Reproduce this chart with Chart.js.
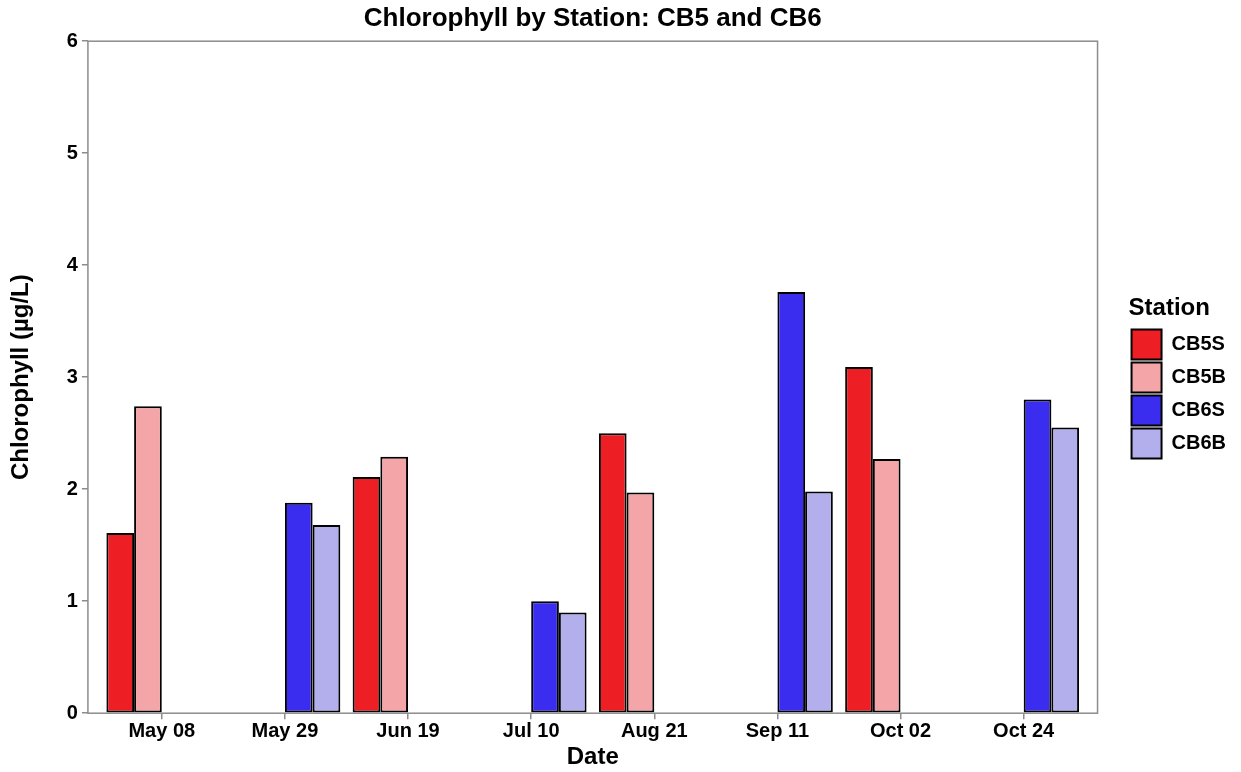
<!DOCTYPE html>
<html>
<head>
<meta charset="utf-8">
<script src="https://cdn.jsdelivr.net/npm/chart.js@4.4.1/dist/chart.umd.min.js"></script>
<style>
  body { margin: 0; background: #fff; }
  #box { width: 1241px; height: 772px; }
</style>
</head>
<body>
<div id="box"><canvas id="grafico"></canvas></div>
<script>
// Datas de coleta (eixo x discreto)
const datas = ['May 08', 'May 29', 'Jun 19', 'Jul 10', 'Aug 21', 'Sep 11', 'Oct 02', 'Oct 24'];

// Clorofila por estação (µg/L), null = sem coleta naquela data
const cb5s = [1.61, null, 2.11, null, 2.50, null, 3.09, null];
const cb5b = [2.74, null, 2.29, null, 1.97, null, 2.27, null];
const cb6s = [null, 1.88, null, 1.00, null, 3.76, null, 2.80];
const cb6b = [null, 1.68, null, 0.90, null, 1.98, null, 2.55];

const estacoes = ['CB5S', 'CB5B', 'CB6S', 'CB6B'];
const cores = ['#ED1F24', '#F4A5A8', '#3A2DEF', '#B3AEEC'];
const yTicks = [0, 1, 2, 3, 4, 5, 6];

Chart.defaults.font.family = "'Liberation Sans', Arial, sans-serif";
Chart.defaults.color = '#000';

// moldura cinza em volta da área do gráfico
const moldura = {
    id: 'moldura',
    afterDatasetsDraw(chart) {
        const a = chart.chartArea;
        const ctx = chart.ctx;
        ctx.save();
        ctx.strokeStyle = '#8c8c8c';
        ctx.lineWidth = 1.5;
        ctx.strokeRect(a.left, a.top, a.right - a.left, a.bottom - a.top);
        ctx.restore();
    }
};

// empurra a legenda um pouco para a direita
const legendaDesloc = {
    id: 'legendaDesloc',
    afterLayout(chart) {
        chart.legend.left += 31;
        chart.legend.right += 31;
    }
};

const series = [cb5s, cb5b, cb6s, cb6b];

const ctx = document.getElementById('grafico').getContext('2d');
new Chart(ctx, {
    type: 'bar',
    data: {
        datasets: series.map((vals, k) => ({
            label: estacoes[k],
            data: vals.map((v, i) => ({ x: i, y: v })),
            backgroundColor: cores[k],
            borderColor: '#000',
            borderWidth: 2,
            borderSkipped: false,
            categoryPercentage: 0.9,
            barPercentage: 1.0
        }))
    },
    options: {
        responsive: true,
        maintainAspectRatio: false,
        animation: false,
        layout: { padding: { top: 0, left: 0, bottom: 0, right: 36 } },
        plugins: {
            title: {
                display: true,
                text: 'Chlorophyll by Station: CB5 and CB6',
                fullSize: false,
                font: { size: 26, weight: 'bold' },
                padding: { top: 3, bottom: 7 }
            },
            legend: {
                position: 'right',
                fullSize: false,
                title: {
                    display: true,
                    text: 'Station',
                    position: 'start',
                    font: { size: 24, weight: 'bold' },
                    padding: { top: 4, bottom: 1 }
                },
                labels: {
                    boxWidth: 30,
                    boxHeight: 30,
                    padding: 3,
                    font: { size: 20, weight: 'bold' }
                }
            },
            tooltip: { enabled: false }
        },
        scales: {
            x: {
                type: 'linear',
                min: -0.6,
                max: 7.6,
                offset: false,
                afterBuildTicks: axis => {
                    axis.ticks = datas.map((d, i) => ({ value: i }));
                },
                grid: { display: true, offset: false, drawOnChartArea: false, drawTicks: true, tickLength: 6, color: '#8c8c8c', lineWidth: 1.5 },
                border: { display: false },
                ticks: {
                    autoSkip: false,
                    maxRotation: 0,
                    padding: 0,
                    font: { size: 20, weight: 'bold' },
                    callback: v => datas[v]
                },
                title: {
                    display: true,
                    text: 'Date',
                    font: { size: 24, weight: 'bold' },
                    padding: { top: 0, bottom: 0 }
                }
            },
            y: {
                min: 0,
                max: 6,
                afterBuildTicks: axis => {
                    axis.ticks = yTicks.map(v => ({ value: v }));
                },
                grid: { display: true, drawOnChartArea: false, drawTicks: true, tickLength: 6, color: '#8c8c8c', lineWidth: 1.5 },
                border: { display: false },
                ticks: {
                    padding: 4,
                    font: { size: 20, weight: 'bold' }
                },
                title: {
                    display: true,
                    text: 'Chlorophyll (µg/L)',
                    font: { size: 24, weight: 'bold' },
                    padding: { top: 7, bottom: 27 }
                }
            }
        }
    },
    plugins: [moldura, legendaDesloc]
});
</script>
</body>
</html>
